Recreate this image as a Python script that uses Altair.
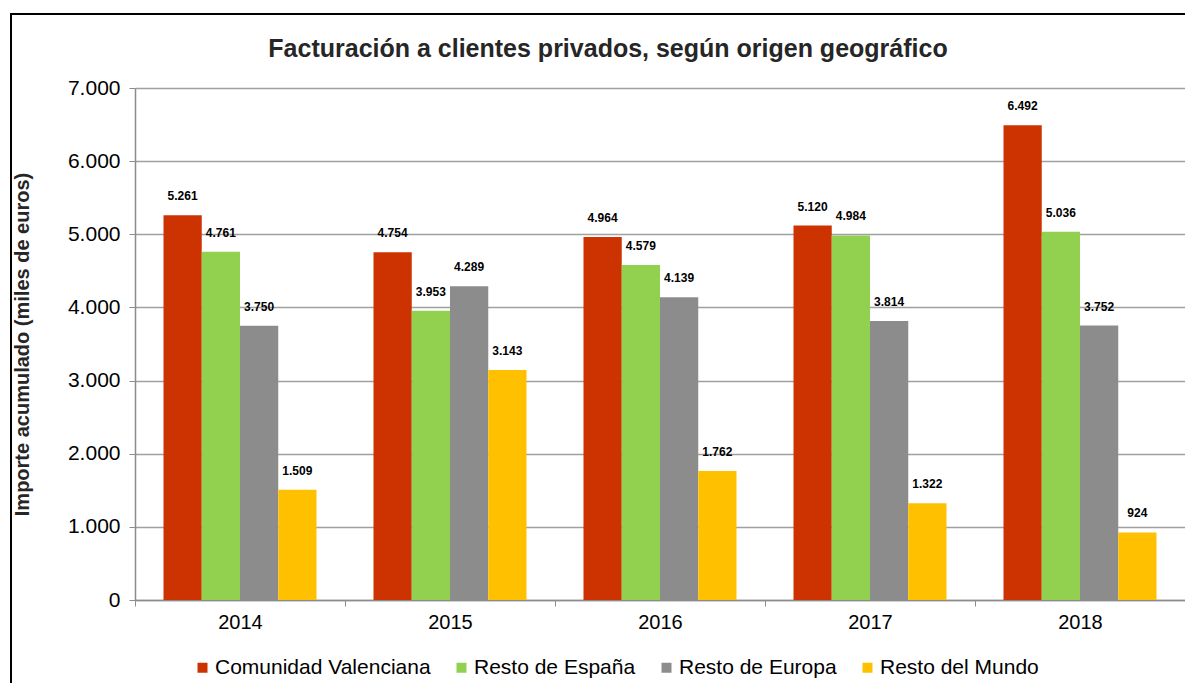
import altair as alt
import pandas as pd

years = ["2014", "2015", "2016", "2017", "2018"]
series = ["Comunidad Valenciana", "Resto de España", "Resto de Europa", "Resto del Mundo"]
comunidad_valenciana = [5261, 4754, 4964, 5120, 6492]
resto_espana = [4761, 3953, 4579, 4984, 5036]
resto_europa = [3750, 4289, 4139, 3814, 3752]
resto_mundo = [1509, 3143, 1762, 1322, 924]
colors = ["#CC3300", "#92D050", "#8C8C8C", "#FFC000"]
chart_title = "Facturación a clientes privados, según origen geográfico"

rows = []
for s, vals in zip(series, [comunidad_valenciana, resto_espana, resto_europa, resto_mundo]):
    for y, v in zip(years, vals):
        rows.append({"year": y, "serie": s, "value": v})
df = pd.DataFrame(rows)

W, H = 1050, 512

base = alt.Chart(df).encode(
    x=alt.X("year:N", sort=years,
            scale=alt.Scale(paddingInner=0, paddingOuter=0),
            axis=alt.Axis(title=None, labelAngle=0, labelFontSize=20, labelColor="#000000",
                          labelFont="Liberation Sans", labelPadding=6,
                          tickBand="extent", ticks=True, tickSize=6, tickColor="#8C8C8C",
                          domainColor="#8C8C8C", domainWidth=1.5, grid=False)),
    xOffset=alt.XOffset("serie:N", sort=series,
                        scale=alt.Scale(paddingInner=0, paddingOuter=0.745)),
)

bars = base.mark_bar(strokeWidth=0).encode(
    y=alt.Y("value:Q", scale=alt.Scale(domain=[0, 7000]),
            axis=alt.Axis(values=[0, 1000, 2000, 3000, 4000, 5000, 6000, 7000], format=",d",
                          title="Importe acumulado  (miles de euros)",
                          titleFontSize=20, titleFontWeight="bold", titleColor="#262626",
                          titleFont="Liberation Sans",
                          titleAngle=270, titleX=-113, titleY=256, titleAlign="center",
                          titleBaseline="middle",
                          labelFontSize=21, labelColor="#000000", labelFont="Liberation Sans",
                          labelPadding=9, tickSize=6, tickColor="#8C8C8C",
                          domainColor="#8C8C8C", domainWidth=1.5,
                          gridColor="#A0A0A0", gridWidth=1.5)),
    color=alt.Color("serie:N", sort=series,
                    scale=alt.Scale(domain=series, range=colors),
                    legend=alt.Legend(title=None, orient="none", direction="horizontal",
                                      legendX=57, legendY=569,
                                      symbolType="square", symbolSize=100,
                                      symbolStrokeWidth=0, labelFontSize=21,
                                      labelFont="Liberation Sans", labelColor="#000000",
                                      labelOffset=2, columnPadding=20, labelLimit=0)),
)

labels = base.mark_text(baseline="bottom", dy=-12, fontSize=12, fontWeight="bold",
                        font="Liberation Sans", color="#000000").encode(
    y=alt.Y("value:Q"),
    text=alt.Text("value:Q", format=",d"),
)

frame = alt.Chart(pd.DataFrame({"k": [0]})).mark_rect(
    fill=None, stroke="#000000", strokeWidth=2
).encode(x=alt.value(-124), x2=alt.value(1200), y=alt.value(-74), y2=alt.value(700))

title = alt.Chart(pd.DataFrame({"t": [chart_title]})).mark_text(
    fontSize=25, fontWeight="bold", color="#262626", font="Liberation Sans",
    align="center", baseline="alphabetic"
).encode(text="t:N", x=alt.value(473), y=alt.value(-31))

chart = alt.layer(frame, title, bars, labels).properties(
    width=W, height=H,
    padding={"left": 127, "top": 80, "right": 0, "bottom": 83},
    autosize=alt.AutoSizeParams(type="none"),
).configure_view(stroke=None).configure(
    locale=alt.Locale(number=alt.NumberLocale(decimal=",", thousands=".", grouping=[3],
                                              currency=["", " €"]))
)

chart.save("out.html", embed_options={"renderer": "svg", "actions": False})
